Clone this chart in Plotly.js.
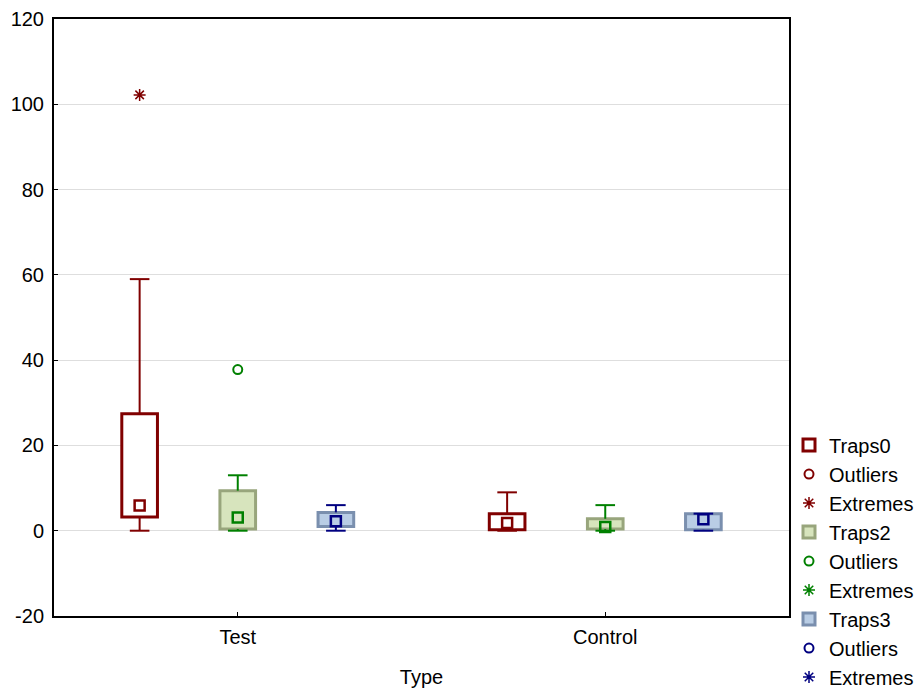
<!DOCTYPE html>
<html>
<head>
<meta charset="utf-8">
<script src="https://cdn.plot.ly/plotly-3.0.1.min.js"></script>
<style>html,body{margin:0;padding:0;background:#fff;}#chart{width:922px;height:690px;}</style>
</head>
<body>
<div id="chart"></div>
<script>
// ---- data ----
const categories = ['Test', 'Control'];
const seriesNames = ['Traps0', 'Traps2', 'Traps3'];
const yTickVals = [-20, 0, 20, 40, 60, 80, 100, 120];
const yTickText = ['-20', '0', '20', '40', '60', '80', '100', '120'];

const traps0Min = [0, 0];
const traps0Q1 = [3.2, 0.2];
const traps0Median = [5.9, 1.8];
const traps0Q3 = [27.4, 4.0];
const traps0Max = [59, 9];
const traps0Outliers = [[], []];
const traps0Extremes = [[102.2], []];

const traps2Min = [0, 0];
const traps2Q1 = [0.4, 0.4];
const traps2Median = [3.1, 0.9];
const traps2Q3 = [9.4, 2.8];
const traps2Max = [13, 6];
const traps2Outliers = [[37.8], []];
const traps2Extremes = [[], []];

const traps3Min = [0, 0];
const traps3Q1 = [1.0, 0.2];
const traps3Median = [2.2, 2.7];
const traps3Q3 = [4.3, 4.0];
const traps3Max = [6, 4];
const traps3Outliers = [[], []];
const traps3Extremes = [[], []];

// ---- styles ----
const series = [
  {name: seriesNames[0], min: traps0Min, q1: traps0Q1, med: traps0Median, q3: traps0Q3, max: traps0Max, out: traps0Outliers, ext: traps0Extremes,
   offset: -0.267, fill: '#ffffff', border: '#800000', ink: '#800000'},
  {name: seriesNames[1], min: traps2Min, q1: traps2Q1, med: traps2Median, q3: traps2Q3, max: traps2Max, out: traps2Outliers, ext: traps2Extremes,
   offset: 0, fill: '#d7e4bd', border: '#98a57c', ink: '#008000'},
  {name: seriesNames[2], min: traps3Min, q1: traps3Q1, med: traps3Median, q3: traps3Q3, max: traps3Max, out: traps3Outliers, ext: traps3Extremes,
   offset: 0.267, fill: '#b9cde5', border: '#7a8fae', ink: '#000080'}
];
const boxWidth = 0.097;
const FONT = 'Liberation Sans, Arial, sans-serif';

const legendTraces = [];
const overlayTraces = [];

function flatten(groups, xs) {
  const px = [], py = [];
  groups.forEach((arr, i) => arr.forEach(v => { px.push(xs[i]); py.push(v); }));
  if (!px.length) { px.push(null); py.push(null); } // keep an (empty) legend entry
  return [px, py];
}

series.forEach(s => {
  const xs = categories.map((c, i) => i + s.offset);
  // box body
  legendTraces.push({
    type: 'bar', name: s.name, x: xs, base: s.q1,
    y: s.q3.map((v, i) => v - s.q1[i]),
    width: boxWidth,
    marker: {color: s.fill, line: {color: s.border, width: 3}},
    hoverinfo: 'skip'
  });
  // outliers
  const [ox, oy] = flatten(s.out, xs);
  legendTraces.push({
    type: 'scatter', mode: 'markers', name: 'Outliers', x: ox, y: oy,
    marker: {symbol: 'circle-open', size: 9, color: s.ink, line: {width: 2, color: s.ink}},
    hoverinfo: 'skip'
  });
  // extremes
  const [ex, ey] = flatten(s.ext, xs);
  legendTraces.push({
    type: 'scatter', mode: 'markers', name: 'Extremes', x: ex, y: ey,
    marker: {symbol: 'asterisk-open', size: 10, color: s.ink, line: {width: 1.5, color: s.ink}},
    hoverinfo: 'skip'
  });
  // whiskers
  const wx = [], wy = [];
  xs.forEach((x, i) => {
    wx.push(x, x, null, x, x, null);
    wy.push(s.q3[i], s.max[i], null, s.q1[i], s.min[i], null);
  });
  overlayTraces.push({
    type: 'scatter', mode: 'lines', x: wx, y: wy, showlegend: false,
    line: {color: s.ink, width: 2}, hoverinfo: 'skip', connectgaps: false
  });
  // whisker caps
  const cx = [], cy = [];
  xs.forEach((x, i) => { cx.push(x, x); cy.push(s.max[i], s.min[i]); });
  overlayTraces.push({
    type: 'scatter', mode: 'markers', x: cx, y: cy, showlegend: false,
    marker: {symbol: 'line-ew', size: 14, color: s.ink, line: {width: 2, color: s.ink}},
    hoverinfo: 'skip'
  });
  // median
  overlayTraces.push({
    type: 'scatter', mode: 'markers', x: xs, y: s.med, showlegend: false,
    marker: {symbol: 'square-open', size: 10, color: s.ink, line: {width: 2.5, color: s.ink}},
    hoverinfo: 'skip'
  });
});

const layout = {
  width: 922, height: 690,
  margin: {l: 54, r: 133, t: 19, b: 74, autoexpand: false},
  paper_bgcolor: '#ffffff', plot_bgcolor: '#ffffff',
  font: {family: FONT, size: 20, color: '#000000'},
  barmode: 'overlay',
  showlegend: true,
  legend: {
    x: 1.0, xanchor: 'left', y: 0.319, yanchor: 'top',
    font: {family: FONT, size: 20, color: '#000000'},
    bgcolor: 'rgba(0,0,0,0)', tracegroupgap: 0, traceorder: 'normal'
  },
  xaxis: {
    range: [-0.5, 1.5],
    tickmode: 'array', tickvals: categories.map((c, i) => i), ticktext: categories,
    ticks: 'inside', ticklen: 4, tickwidth: 1, tickcolor: '#000',
    showgrid: false, zeroline: false,
    showline: true, linecolor: '#000', linewidth: 2, mirror: true,
    ticklabelstandoff: 2,
    title: {text: 'Type', font: {family: FONT, size: 20}, standoff: 23}
  },
  yaxis: {
    range: [-20, 120],
    tickmode: 'array', tickvals: yTickVals, ticktext: yTickText,
    ticks: 'inside', ticklen: 4, tickwidth: 1, tickcolor: '#000',
    showgrid: true, gridcolor: '#dedede', gridwidth: 1,
    zeroline: false,
    showline: true, linecolor: '#000', linewidth: 2, mirror: true,
    ticklabelstandoff: 4
  }
};

Plotly.newPlot('chart', legendTraces.concat(overlayTraces), layout, {staticPlot: true, displayModeBar: false});
</script>
</body>
</html>
